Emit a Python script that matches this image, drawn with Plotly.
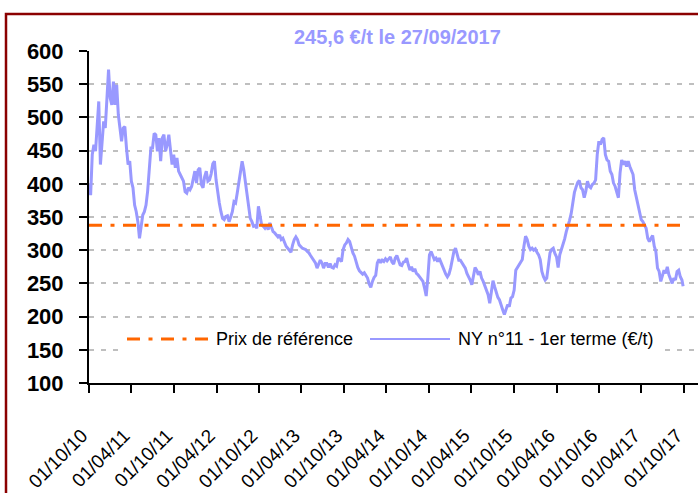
import plotly.graph_objects as go
import pandas as pd

# ---------------- data ----------------
start_date = "2010-10-01"          # first weekly observation
ny11_weekly = [
    399, 383, 444, 459, 449, 494, 524, 429, 464, 494, 484, 534, 572, 529, 519, 554, 519, 549, 504, 484,
    464, 484, 486, 454, 429, 434, 404, 394, 368, 358, 343, 318, 333, 353, 358, 368, 389, 424, 454, 454,
    476, 474, 449, 469, 434, 469, 474, 449, 459, 474, 454, 429, 444, 424, 439, 419, 414, 409, 404, 388,
    386, 394, 391, 396, 406, 419, 401, 421, 424, 399, 394, 411, 419, 404, 406, 415, 430,
    434, 406, 384, 371, 358, 348, 346, 351, 352, 343, 350, 358, 373, 371, 386, 401, 419, 434, 421, 401,
    379, 361, 348, 343, 336, 337, 333, 366, 351, 338, 336, 333, 337, 331, 341, 335, 328, 326, 323, 320,
    323, 316, 318, 311, 306, 303, 300, 297, 308, 316, 320, 316, 308, 305, 303, 302, 301, 298, 296, 292,
    288, 285, 281, 273, 278, 285, 281, 273, 280, 280, 274, 280, 274, 273, 278, 276, 288,
    285, 283, 301, 308, 311, 316, 313, 302, 296, 291, 282, 274, 269, 266, 264, 266, 261, 258, 249, 244,
    253, 259, 262, 281, 286, 281, 285, 283, 287, 284, 287, 290, 282, 279, 288, 292, 285, 278, 277, 282,
    283, 288, 278, 270, 275, 268, 272, 265, 263, 260, 257, 253, 243, 231, 258, 293, 298, 292, 286, 288,
    283, 288, 282, 277, 269, 264, 260, 264, 273, 286, 298, 303, 293, 285, 285, 281, 276,
    273, 265, 261, 255, 248, 263, 274, 270, 263, 268, 258, 253, 246, 240, 233, 220, 240, 254, 245, 235,
    229, 225, 216, 210, 203, 209, 218, 215, 228, 230, 240, 270, 274, 278, 283, 286, 306, 321, 316, 306,
    301, 303, 300, 302, 297, 293, 286, 268, 260, 255, 258, 278, 296, 301, 303, 295, 290, 274, 293, 301,
    308, 317, 328, 335, 345, 355, 375, 387, 395, 402, 405,
    394, 391, 379, 389, 404, 396, 394, 399, 401, 406, 444, 464, 459, 467, 469, 444, 436, 434, 419, 414,
    401, 396, 389, 379, 416, 436, 429, 434, 426, 434, 426, 421, 414, 391, 379, 368, 358, 346, 343, 338,
    333, 318, 313, 318, 322, 306, 298, 273, 268, 253, 260, 270, 265, 275, 263, 255, 250, 258, 255, 268,
    270, 260, 255,
]
last_date = "2017-09-27"
last_value = 245.6
ref_price = 337.5

tick_dates = ["2010-10-01", "2011-04-01", "2011-10-01", "2012-04-01", "2012-10-01",
              "2013-04-01", "2013-10-01", "2014-04-01", "2014-10-01", "2015-04-01",
              "2015-10-01", "2016-04-01", "2016-10-01", "2017-04-01", "2017-10-01"]
tick_labels = ["01/10/10", "01/04/11", "01/10/11", "01/04/12", "01/10/12",
               "01/04/13", "01/10/13", "01/04/14", "01/10/14", "01/04/15",
               "01/10/15", "01/04/16", "01/10/16", "01/04/17", "01/10/17"]
y_ticks = [100, 150, 200, 250, 300, 350, 400, 450, 500, 550, 600]
title_text = "245,6 €/t le 27/09/2017"
legend_labels = ["Prix de référence", "NY n°11 - 1er terme (€/t)"]

# ---------------- styling ----------------
BLUE = "#9999FF"
ORANGE = "#FF6600"
FRAME = "#8B0000"
FONT = "Liberation Sans, Arial, sans-serif"

dates = list(pd.date_range(start_date, periods=len(ny11_weekly), freq="7D")) + [pd.Timestamp(last_date)]
values = ny11_weekly + [last_value]

fig = go.Figure()
fig.add_trace(go.Scatter(x=dates, y=values, mode="lines", name=legend_labels[1],
                         line=dict(color=BLUE, width=3), showlegend=False))
fig.add_trace(go.Scatter(x=[start_date, last_date], y=[ref_price, ref_price], mode="lines",
                         name=legend_labels[0],
                         line=dict(color=ORANGE, width=3, dash="13px,8.5px,4px,8.5px"),
                         showlegend=False))

# plot area geometry (pixels) for paper-coordinate helpers
L, R, T, B = 89, 0, 51, 110
W, H = 698, 493
PW, PH = W - L - R, H - T - B


def px(xp):
    return (xp - L) / PW


def py(yp):
    return (H - B - yp) / PH


fig.update_layout(
    width=W, height=H,
    margin=dict(l=L, r=R, t=T, b=B),
    paper_bgcolor="white", plot_bgcolor="white",
    showlegend=False,
    font=dict(family=FONT, color="black"),
    xaxis=dict(
        type="date", range=["2010-10-01", "2017-11-30"],
        tickvals=tick_dates, ticktext=tick_labels, tickangle=-45,
        tickfont=dict(family=FONT, size=19, color="black"),
        showgrid=False, zeroline=False,
        showline=True, linecolor="black", linewidth=2,
        ticks="outside", ticklen=8, tickwidth=2, tickcolor="black",
        ticklabelstandoff=24, ticklabelshift=-7, automargin=False,
    ),
    yaxis=dict(
        range=[100, 600], tickvals=y_ticks,
        tickfont=dict(family=FONT, size=22, color="black", weight="bold"),
        showgrid=True, gridcolor="#BFBFBF", gridwidth=2, griddash="5px,7px",
        zeroline=False,
        showline=True, linecolor="black", linewidth=2,
        ticks="outside", ticklen=8, tickwidth=2, tickcolor="black",
        ticklabelstandoff=11, automargin=False,
    ),
)

shapes = [
    # outer frame (cropped at right/bottom)
    dict(type="rect", xref="paper", yref="paper", x0=px(6), x1=px(720), y0=py(14), y1=py(520),
         line=dict(color=FRAME, width=2.5), fillcolor="rgba(0,0,0,0)", layer="above"),
    # legend box (white, hides gridline)
    dict(type="rect", xref="paper", yref="paper", x0=px(118), x1=px(662), y0=py(321), y1=py(359),
         line=dict(width=0), fillcolor="white", layer="above"),
    # legend samples
    dict(type="line", xref="paper", yref="paper", x0=px(127), x1=px(208), y0=py(339), y1=py(339),
         line=dict(color=ORANGE, width=3, dash="13px,8.5px,4px,8.5px"), layer="above"),
    dict(type="line", xref="paper", yref="paper", x0=px(370), x1=px(450), y0=py(339), y1=py(339),
         line=dict(color=BLUE, width=2), layer="above"),
]
fig.update_layout(shapes=shapes)

fig.add_annotation(xref="paper", yref="paper", x=px(214), y=py(339), xanchor="left", yanchor="middle",
                   text=legend_labels[0], showarrow=False,
                   font=dict(family=FONT, size=18, color="black"))
fig.add_annotation(xref="paper", yref="paper", x=px(456), y=py(339), xanchor="left", yanchor="middle",
                   text=legend_labels[1], showarrow=False,
                   font=dict(family=FONT, size=18, color="black"))
fig.add_annotation(xref="paper", yref="paper", x=px(397), y=py(37), xanchor="center", yanchor="middle",
                   text=title_text, showarrow=False,
                   font=dict(family=FONT, size=20, color=BLUE, weight="bold"))

fig.write_html("out.html", config={"displayModeBar": False},
               post_script="document.body.style.margin='0';")
